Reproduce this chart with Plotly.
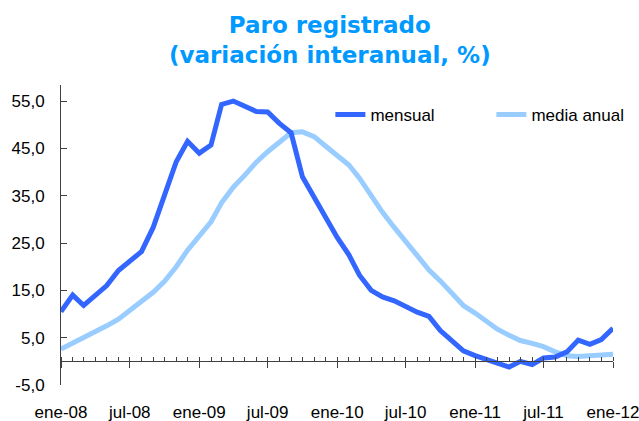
import plotly.graph_objects as go

# Months (ene-08 .. ene-12)
months = [f"{y}-{m:02d}-01" for y in range(2008, 2012) for m in range(1, 13)] + ["2012-01-01"]

mensual = [10.5, 14.0, 11.8, 14.0, 16.0, 19.2, 21.1, 23.2, 28.3, 35.4,
           42.2, 46.5, 44.0, 45.7, 54.3, 55.0, 54.0, 52.8, 52.7, 50.3,
           48.3, 39.0, 34.7, 30.6, 26.2, 22.5, 18.2, 15.0, 13.6, 12.8,
           11.5, 10.4, 9.5, 6.5, 4.3, 2.2, 1.2, 0.4, -0.4, -1.2,
           0.0, -0.7, 0.7, 0.9, 2.0, 4.5, 3.6, 4.6, 7.0]

media_anual = [2.6, 3.8, 5.0, 6.3, 7.5, 8.9, 10.7, 12.6, 14.6, 16.9,
               20.0, 23.5, 26.7, 29.5, 33.5, 36.8, 39.3, 42.1, 44.3, 46.3,
               48.3, 48.5, 47.5, 45.5, 43.6, 41.5, 38.7, 35.0, 31.5, 28.3,
               25.3, 22.0, 19.3, 17.0, 14.5, 11.8, 10.2, 8.3, 6.8, 5.5,
               4.4, 3.8, 3.1, 2.0, 1.2, 1.0, 1.1, 1.2, 1.5]

x_tickvals = ["2008-01-01", "2008-07-01", "2009-01-01", "2009-07-01", "2010-01-01",
              "2010-07-01", "2011-01-01", "2011-07-01", "2012-01-01"]
x_ticktext = ["ene-08", "jul-08", "ene-09", "jul-09", "ene-10",
              "jul-10", "ene-11", "jul-11", "ene-12"]

y_tickvals = [-5, 5, 15, 25, 35, 45, 55]
y_ticktext = ["-5,0", "5,0", "15,0", "25,0", "35,0", "45,0", "55,0"]

Y_MIN, Y_MAX = -5, 58.4
X_RANGE = ["2008-01-01", "2012-01-01"]

DARK = "#3366FF"
LIGHT = "#99CCFF"
AXIS = "#404040"
FONT = "Liberation Sans, Arial, sans-serif"

fig = go.Figure()
fig.add_trace(go.Scatter(x=months, y=media_anual, name="media anual", mode="lines",
                         line=dict(color=LIGHT, width=5), xaxis="x", yaxis="y"))
fig.add_trace(go.Scatter(x=months, y=mensual, name="mensual", mode="lines",
                         line=dict(color=DARK, width=5), xaxis="x2", yaxis="y"))

zero_pos = (0 - Y_MIN) / (Y_MAX - Y_MIN)

fig.update_layout(
    width=639, height=421,
    margin=dict(l=61, r=26, t=85, b=36, autoexpand=False),
    paper_bgcolor="white", plot_bgcolor="white",
    font=dict(family=FONT, size=17, color="#000000"),
    showlegend=True,
    legend=dict(orientation="h", x=0.488, xanchor="left", y=0.9, yanchor="middle",
                traceorder="reversed", font=dict(size=17, family=FONT),
                entrywidth=116, entrywidthmode="pixels", bgcolor="rgba(0,0,0,0)"),
    title=dict(text="Paro registrado<br>(variación interanual, %)",
               x=0.487, xanchor="center", xref="paper", y=0.922, yanchor="top",
               yref="container",
               font=dict(family="DejaVu Sans, sans-serif", size=23, color="#0099FF",
                         weight="bold")),
    xaxis=dict(type="date", range=X_RANGE, tickvals=x_tickvals, ticktext=x_ticktext,
               showline=False, ticks="", showgrid=False, zeroline=False, automargin=False,
               ticklabelstandoff=15, ticklabeloverflow="allow",
               tickfont=dict(size=17, family=FONT)),
    xaxis2=dict(type="date", matches="x", overlaying="x", anchor="free", position=zero_pos,
                range=X_RANGE, tickvals=x_tickvals, showticklabels=False, automargin=False,
                showline=True, linecolor=AXIS, linewidth=1,
                ticks="outside", ticklen=6, tickcolor=AXIS, tickwidth=1,
                minor=dict(ticks="inside", ticklen=4, dtick="M1", tickcolor=AXIS,
                           tickwidth=1, showgrid=False),
                showgrid=False, zeroline=False),
    yaxis=dict(range=[Y_MIN, Y_MAX], tickvals=y_tickvals, ticktext=y_ticktext,
               showline=True, linecolor=AXIS, linewidth=1, automargin=False,
               ticks="inside", ticklen=6, tickcolor=AXIS,
               showgrid=False, zeroline=False, ticklabelstandoff=12,
               tickfont=dict(size=17, family=FONT)),
)

fig.write_html("out.html", config={"displayModeBar": False},
               post_script="document.body.style.margin='0';")
